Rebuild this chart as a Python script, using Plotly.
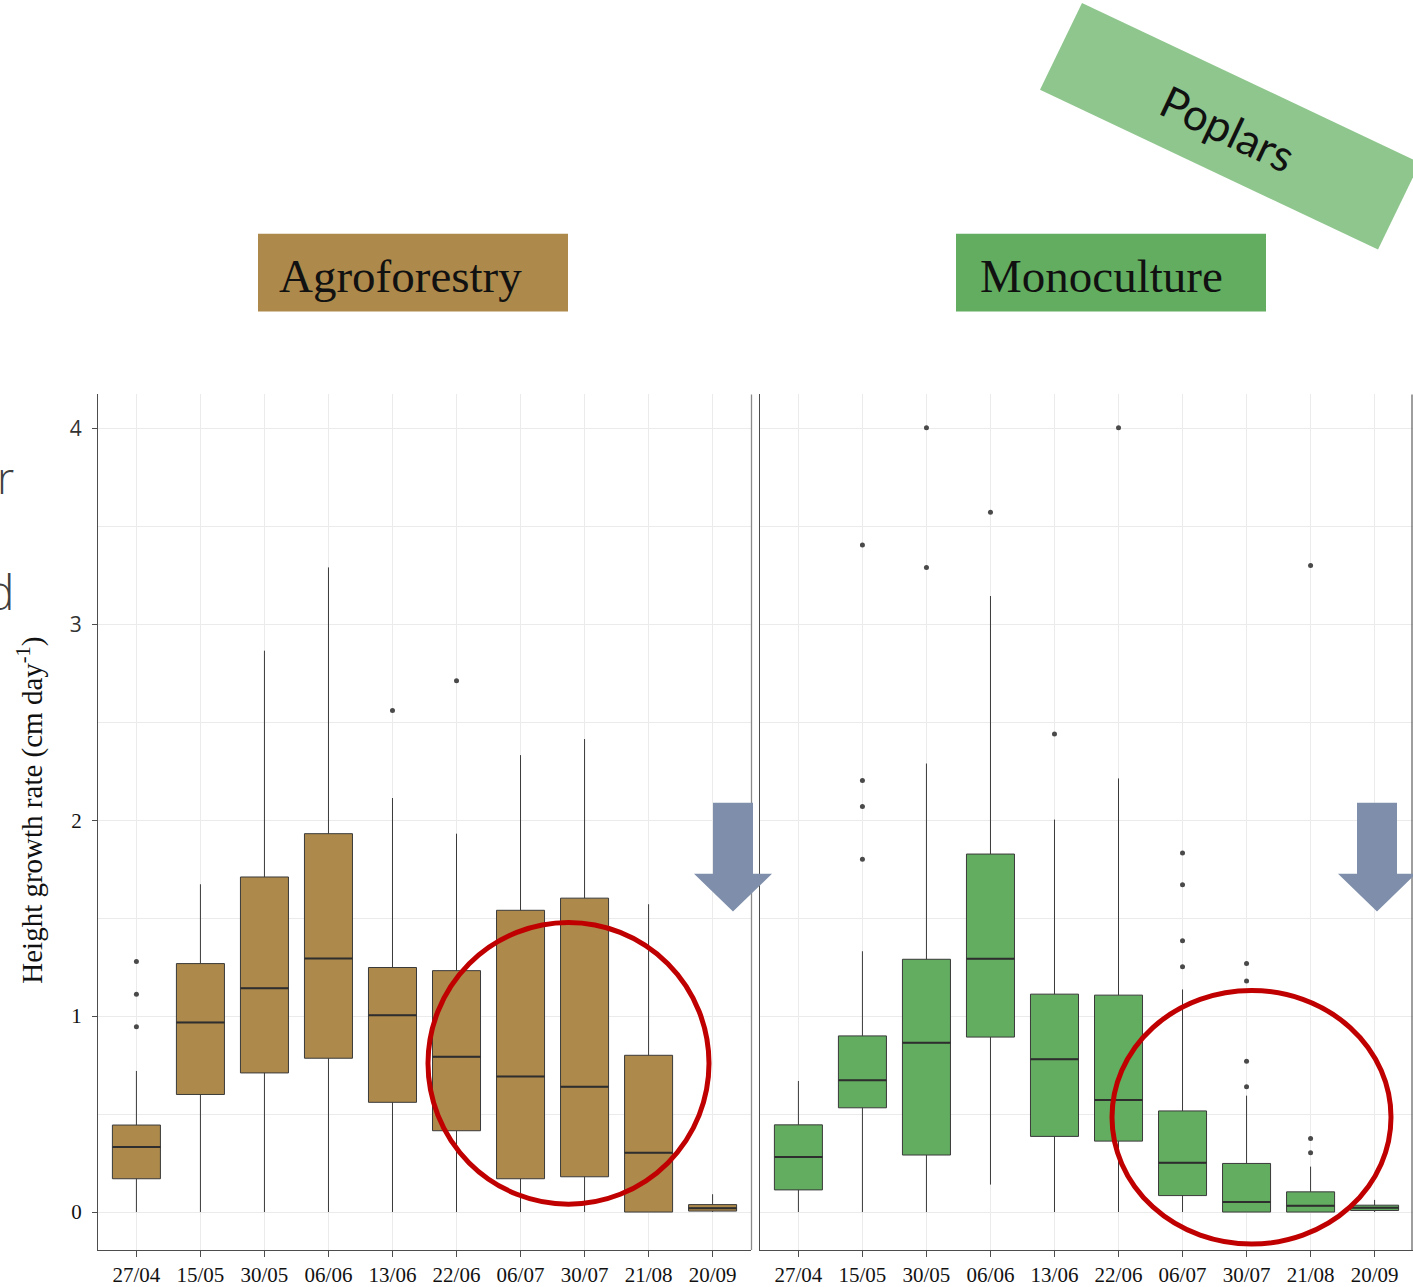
import plotly.graph_objects as go

# ---- data -----------------------------------------------------------------
dates = ["27/04", "15/05", "30/05", "06/06", "13/06",
         "22/06", "06/07", "30/07", "21/08", "20/09"]

# Agroforestry: box statistics per sampling date (cm day-1)
agro_q1 = [0.170, 0.600, 0.710, 0.785, 0.560, 0.415, 0.170, 0.180, 0.000, 0.005]
agro_median = [0.332, 0.968, 1.142, 1.294, 1.004, 0.792, 0.692, 0.639, 0.303, 0.020]
agro_q3 = [0.444, 1.268, 1.710, 1.931, 1.248, 1.232, 1.540, 1.602, 0.800, 0.038]
agro_low = [0.0, 0.0, 0.0, 0.0, 0.0, 0.0, 0.0, 0.0, 0.0, 0.0]
agro_high = [0.720, 1.673, 2.865, 3.290, 2.113, 1.931, 2.332, 2.414, 1.571, 0.091]
agro_out_date = ["27/04", "27/04", "27/04", "13/06", "22/06"]
agro_out_val = [1.279, 1.112, 0.946, 2.560, 2.712]

# Monoculture
mono_q1 = [0.113, 0.532, 0.291, 0.893, 0.386, 0.362, 0.084, 0.000, 0.000, 0.008]
mono_median = [0.281, 0.672, 0.864, 1.293, 0.780, 0.572, 0.251, 0.051, 0.032, 0.022]
mono_q3 = [0.445, 0.899, 1.290, 1.827, 1.112, 1.107, 0.516, 0.248, 0.103, 0.035]
mono_low = [0.0, 0.0, 0.0, 0.140, 0.0, 0.0, 0.0, 0.0, 0.0, 0.0]
mono_high = [0.669, 1.331, 2.289, 3.144, 2.003, 2.213, 1.136, 0.594, 0.232, 0.062]
mono_out_date = ["15/05", "15/05", "15/05", "15/05", "30/05", "30/05", "06/06",
                 "13/06", "22/06", "06/07", "06/07", "06/07", "06/07",
                 "30/07", "30/07", "30/07", "30/07", "21/08", "21/08", "21/08"]
mono_out_val = [3.404, 2.202, 2.070, 1.800, 4.003, 3.290, 3.571,
                2.440, 4.003, 1.833, 1.671, 1.385, 1.252,
                1.269, 1.179, 0.769, 0.640, 3.300, 0.375, 0.302]

y_ticks = [0, 1, 2, 3, 4]
y_ticktext = ["0", "1", "2",
              '<span style="font-family:Open Sans;color:#333">3</span>',
              '<span style="font-family:Open Sans;color:#333">4</span>']

# ---- styling --------------------------------------------------------------
W, H = 1413, 1287
BROWN = "#ad894b"
GREEN = "#62ad60"
LIGHT_GREEN = "#8fc68e"
ARROW = "#7f8fab"
RED = "#c00000"
SERIF = "Liberation Serif, Times New Roman, serif"
BOX_W = 0.75


def px(x):
    return x / W


def py(y):
    return 1 - y / H


idx = {d: i for i, d in enumerate(dates)}
pos = list(range(len(dates)))

fig = go.Figure()


def add_panel(q1, med, q3, lo, hi, out_d, out_v, color, xa, ya):
    fig.add_trace(go.Box(
        x=pos, q1=q1, median=med, q3=q3, lowerfence=lo, upperfence=hi,
        width=BOX_W, whiskerwidth=0, boxpoints=False,
        fillcolor=color, line=dict(color="#3a3a3a", width=1),
        xaxis=xa, yaxis=ya, showlegend=False, hoverinfo="skip"))
    # thicker median bar across each box
    mx, my = [], []
    for i, m in zip(pos, med):
        mx += [i - BOX_W / 2, i + BOX_W / 2, None]
        my += [m, m, None]
    fig.add_trace(go.Scatter(
        x=mx, y=my, mode="lines", line=dict(color="#2e2e2e", width=2),
        xaxis=xa, yaxis=ya, showlegend=False, hoverinfo="skip"))
    fig.add_trace(go.Scatter(
        x=[idx[d] for d in out_d], y=out_v, mode="markers",
        marker=dict(color="#4a4a4a", size=5),
        xaxis=xa, yaxis=ya, showlegend=False, hoverinfo="skip"))


add_panel(agro_q1, agro_median, agro_q3, agro_low, agro_high,
          agro_out_date, agro_out_val, BROWN, "x", "y")
add_panel(mono_q1, mono_median, mono_q3, mono_low, mono_high,
          mono_out_date, mono_out_val, GREEN, "x2", "y2")

GRID = "#ebebeb"
AXIS = "#4d4d4d"
dom_left = [px(98), px(751)]
dom_right = [px(760), 1.0]
dom_y = [py(1252), py(395)]
yr = [-0.194, 4.173]

xcommon = dict(range=[-0.6, len(dates) - 0.4], tickvals=pos, ticktext=dates,
               showgrid=True, gridcolor=GRID, gridwidth=1, zeroline=False,
               showline=True, linecolor=AXIS, linewidth=1.3,
               ticks="outside", ticklen=6, tickcolor=AXIS,
               tickfont=dict(family=SERIF, size=21, color="#111"))
ycommon = dict(range=yr, tickvals=y_ticks, showgrid=True, gridcolor=GRID,
               gridwidth=1, zeroline=False, domain=dom_y,
               minor=dict(dtick=0.5, showgrid=True, gridcolor=GRID, gridwidth=1),
               showline=True, linecolor=AXIS, linewidth=1.3)

fig.update_layout(
    width=W, height=H, autosize=False,
    margin=dict(l=0, r=0, t=0, b=0),
    paper_bgcolor="white", plot_bgcolor="white",
    xaxis=dict(domain=dom_left, anchor="y", **xcommon),
    xaxis2=dict(domain=dom_right, anchor="y2", **xcommon),
    yaxis=dict(anchor="x", ticks="outside", ticklen=5, tickcolor=AXIS,
               ticktext=y_ticktext, ticklabelstandoff=6,
               tickfont=dict(family=SERIF, size=21, color="#111"), **ycommon),
    yaxis2=dict(anchor="x2", showticklabels=False, ticks="", **ycommon),
)

shapes = []
# right borders of both panels
shapes.append(dict(type="line", xref="paper", yref="paper",
                   x0=px(751.5), x1=px(751.5), y0=dom_y[0], y1=dom_y[1],
                   line=dict(color="#8a8a8a", width=1.3)))
shapes.append(dict(type="line", xref="paper", yref="paper",
                   x0=px(1412), x1=px(1412), y0=dom_y[0], y1=dom_y[1],
                   line=dict(color="#6a6a6a", width=1.3)))

# header boxes
shapes.append(dict(type="rect", xref="paper", yref="paper",
                   x0=px(258), x1=px(568), y0=py(312), y1=py(234),
                   fillcolor=BROWN, line=dict(width=0)))
shapes.append(dict(type="rect", xref="paper", yref="paper",
                   x0=px(956), x1=px(1266), y0=py(312), y1=py(234),
                   fillcolor=GREEN, line=dict(width=0)))

# tilted "Poplars" banner
banner = [(1040, 90), (1082, 3), (1420, 163), (1378, 250)]
path = "M " + " L ".join(f"{px(x):.5f},{py(y):.5f}" for x, y in banner) + " Z"
shapes.append(dict(type="path", xref="paper", yref="paper", path=path,
                   fillcolor=LIGHT_GREEN, line=dict(width=0)))


def arrow(cx):
    pts = [(cx - 20, 804), (cx + 20, 804), (cx + 20, 875), (cx + 39, 875),
           (cx, 913), (cx - 39, 875), (cx - 20, 875)]
    p = "M " + " L ".join(f"{px(x):.5f},{py(y):.5f}" for x, y in pts) + " Z"
    return dict(type="path", xref="paper", yref="paper", path=p,
                fillcolor=ARROW, line=dict(width=0), layer="above")


shapes.append(arrow(733))
shapes.append(arrow(1377))

# red highlight rings
shapes.append(dict(type="circle", xref="paper", yref="paper",
                   x0=px(428), x1=px(709), y0=py(1206), y1=py(924),
                   line=dict(color=RED, width=5), layer="above"))
shapes.append(dict(type="circle", xref="paper", yref="paper",
                   x0=px(1112), x1=px(1391), y0=py(1246), y1=py(992),
                   line=dict(color=RED, width=5), layer="above"))

fig.update_layout(shapes=shapes)

annotations = [
    dict(text="Agroforestry", x=px(401), y=py(276), xref="paper", yref="paper",
         showarrow=False, xanchor="center", yanchor="middle",
         font=dict(family=SERIF, size=47, color="#111")),
    dict(text="Monoculture", x=px(1101), y=py(276), xref="paper", yref="paper",
         showarrow=False, xanchor="center", yanchor="middle",
         font=dict(family=SERIF, size=47, color="#111")),
    dict(text="Poplars", x=px(1228), y=py(128), xref="paper", yref="paper",
         showarrow=False, xanchor="center", yanchor="middle", textangle=25.3,
         font=dict(family="Lato, Open Sans, sans-serif", size=44, color="#111")),
    dict(text="Height growth rate (cm day<sup>-1</sup>)", x=px(31), y=py(812),
         xref="paper", yref="paper", showarrow=False, textangle=-90,
         xanchor="center", yanchor="middle",
         font=dict(family=SERIF, size=29, color="#111")),
    # trailing letters of a neighbouring caption, clipped by the page edge
    dict(text="r", x=px(16), y=py(478), xref="paper", yref="paper",
         showarrow=False, xanchor="right", yanchor="middle",
         font=dict(family="Open Sans, sans-serif", size=44, color="#404040",
                   weight=300)),
    dict(text="d", x=px(17), y=py(592), xref="paper", yref="paper",
         showarrow=False, xanchor="right", yanchor="middle",
         font=dict(family="Open Sans, sans-serif", size=48, color="#404040",
                   weight=300)),
]
fig.update_layout(annotations=annotations)

fig.write_html("out.html")
